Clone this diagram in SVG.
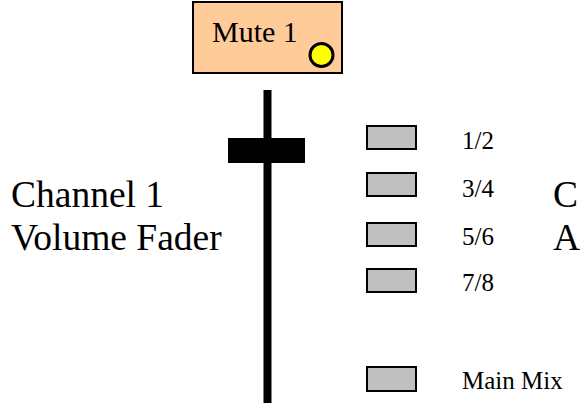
<svg xmlns="http://www.w3.org/2000/svg" width="581" height="413" viewBox="0 0 581 413">
<style>
text{font-family:"Liberation Serif","Times New Roman",serif;fill:#000}
.big{font-size:37.5px}
.lbl{font-size:25px}
.btn{fill:#C0C0C0;stroke:#000;stroke-width:2}
</style>
<rect width="581" height="413" fill="#fff"/>
<g id="mute1">
<rect x="193" y="2" width="149" height="71" fill="#FFCC99" stroke="#000" stroke-width="2"/>
<text x="212" y="42" style="font-size:30px">Mute 1</text>
<circle cx="321.5" cy="55" r="11.5" fill="#FFFF00" stroke="#000" stroke-width="3"/>
</g>
<g id="fader">
<rect x="263.5" y="90" width="8" height="313" fill="#000"/>
<rect x="228" y="138" width="77" height="25" fill="#000"/>
</g>
<g id="fader-label">
<text class="big" x="11" y="207">Channel 1</text>
<text class="big" x="11" y="250">Volume Fader</text>
</g>
<g id="assign-1-2"><rect class="btn" x="367" y="126" width="49" height="23"/><text class="lbl" x="462" y="149">1/2</text></g>
<g id="assign-3-4"><rect class="btn" x="367" y="173" width="49" height="23"/><text class="lbl" x="462" y="197">3/4</text></g>
<g id="assign-5-6"><rect class="btn" x="367" y="223" width="49" height="23"/><text class="lbl" x="462" y="245">5/6</text></g>
<g id="assign-7-8"><rect class="btn" x="367" y="269" width="49" height="23"/><text class="lbl" x="462" y="291">7/8</text></g>
<g id="assign-main"><rect class="btn" x="367" y="367" width="49" height="24"/><text class="lbl" x="462" y="389">Main Mix</text></g>
<g id="assign-label">
<text class="big" x="553" y="207">C</text>
<text class="big" x="553" y="250">A</text>
</g>
<g id="connectors"></g>
</svg>
